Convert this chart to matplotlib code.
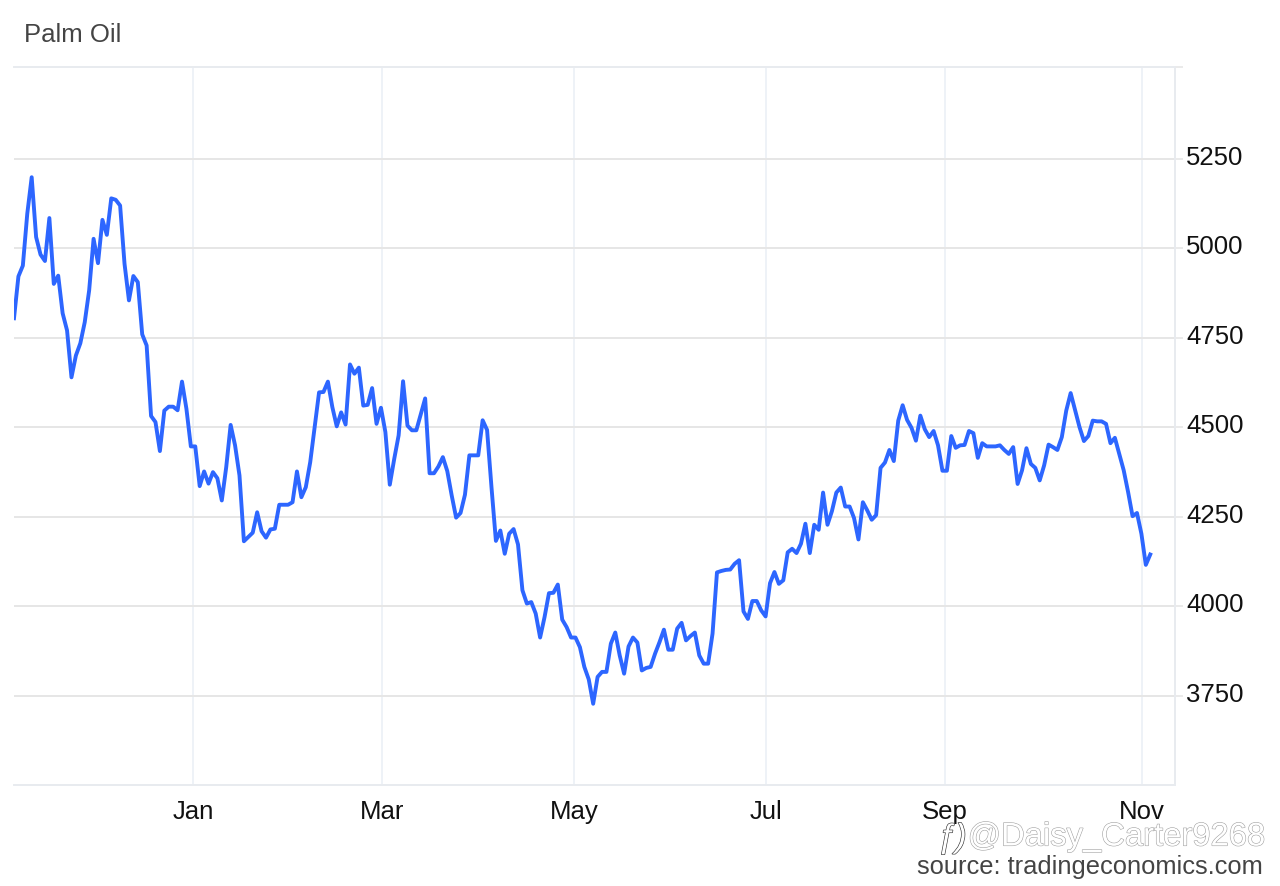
"""Palm Oil price chart, tradingeconomics style."""
import matplotlib
matplotlib.use("Agg")
import matplotlib.pyplot as plt
import matplotlib.patheffects as pe
from matplotlib.transforms import ScaledTranslation

plt.rcParams["font.family"] = ["Liberation Sans", "DejaVu Sans"]

TITLE = "Palm Oil"
SOURCE = "source: tradingeconomics.com"
WATERMARK = "@Daisy_Carter9268"

# daily closes
prices_a = [
    4805, 4922, 4952, 5097, 5199, 5032, 4983, 4965, 5085, 4901, 4924, 4819, 4771,
    4640, 4701, 4735, 4794, 4883, 5027, 4959, 5080, 5038, 5140, 5136, 5120, 4957,
    4855, 4923, 4906, 4760, 4729, 4532, 4515, 4434, 4547, 4558, 4558, 4548, 4628,
    4552, 4447, 4447, 4336, 4377, 4343, 4375, 4358, 4296, 4389, 4507, 4450, 4366,
    4182, 4194, 4206, 4263, 4210, 4192, 4215, 4217, 4284, 4284, 4284, 4291, 4377,
]
prices_b = [
    4305, 4333, 4403, 4501, 4598, 4599, 4628, 4557, 4503, 4542, 4508, 4676, 4650,
    4667, 4561, 4563, 4610, 4510, 4555, 4487, 4340, 4412, 4478, 4629, 4505, 4492,
    4492, 4536, 4581, 4372, 4372, 4391, 4417, 4378, 4310, 4248, 4261, 4312, 4422,
    4422, 4422, 4520, 4493, 4333, 4183, 4212, 4147, 4203, 4216, 4173, 4045, 4008,
    4012, 3980, 3913, 3970, 4037, 4038, 4061, 3963, 3942, 3913, 3913,
]
prices_c = [
    3886, 3831, 3796, 3728, 3803, 3817, 3817, 3896, 3927, 3863, 3812, 3888, 3913,
    3899, 3821, 3828, 3831, 3868, 3900, 3935, 3879, 3879, 3938, 3954, 3905, 3917,
    3927, 3863, 3840, 3840, 3924, 4095, 4099, 4102, 4103, 4119, 4129, 3986, 3965,
    4015, 4015, 3989, 3972, 4065, 4096, 4063, 4073, 4151, 4161, 4149, 4175, 4231,
    4149, 4228, 4214,
]
prices_d = [
    4318, 4228, 4266, 4318, 4332, 4279, 4279, 4247, 4187, 4291, 4268, 4242, 4255,
    4387, 4402, 4437, 4406, 4519, 4562, 4521, 4499, 4463, 4533, 4495, 4473, 4490,
    4450, 4379, 4379, 4476, 4443, 4450, 4451, 4490, 4484, 4415, 4456, 4447, 4447,
    4447, 4450, 4437, 4426, 4445, 4342, 4380, 4442, 4398, 4387, 4352, 4394, 4452,
    4445, 4437, 4473, 4547, 4596, 4549, 4501, 4462, 4476, 4519, 4517, 4517, 4510,
    4456, 4471, 4426, 4380, 4319, 4252, 4261, 4203, 4116, 4145,
]
prices = prices_a + prices_b + prices_c + prices_d

months = ["Jan", "Mar", "May", "Jul", "Sep", "Nov"]
month_idx = [40.6, 83.3, 126.7, 170.0, 210.6, 255.2]
yticks = [3750, 4000, 4250, 4500, 4750, 5000, 5250]

W, H = 1280, 887
fig = plt.figure(figsize=(W / 100, H / 100), dpi=100, facecolor="white")
ax = fig.add_axes([14 / W, 1 - 786 / H, (1175 - 14) / W, (786 - 68) / H])

ax.plot(range(len(prices)), prices, color="#2d66ff", lw=2.8, solid_joinstyle="round", zorder=3)

ax.set_xlim(0, 262.6)
ax.set_ylim(3501, 5507)
ax.set_xticks(month_idx, months)
ax.set_yticks(yticks)
ax.set_yticks([5507], minor=True)
ax.yaxis.tick_right()
ax.grid(axis="y", color="#e6e6e6", lw=1.4)
ax.grid(axis="x", color="#eef2f7", lw=1.4)
ax.set_axisbelow(True)
ax.tick_params(axis="x", length=0, pad=10, labelsize=18.5, labelcolor="#111111")
ax.tick_params(axis="y", which="both", length=5.8, width=1.2, color="#e6e6e6", pad=2.2,
               labelsize=18.5, labelcolor="#111111")
# y labels sit a little above their gridlines
for lbl in ax.get_yticklabels():
    lbl.set_va("center")
    lbl.set_transform(lbl.get_transform() + ScaledTranslation(0, 2 / 100, fig.dpi_scale_trans))
ax.spines["left"].set_visible(False)
for side in ["top", "bottom", "right"]:
    ax.spines[side].set_color("#e8ebef")
    ax.spines[side].set_linewidth(1.4)

fig.text(24 / W, 1 - 35 / H, TITLE, fontsize=18.5, color="#444444", va="center", ha="left")
fig.text(1263 / W, 1 - 867 / H, SOURCE, fontsize=18.4, color="#444444", va="center", ha="right")
fig.text(1265 / W, 1 - 838 / H, WATERMARK, fontsize=23.6, color="white", va="center", ha="right",
         path_effects=[pe.withStroke(linewidth=0.8, foreground="#a0a0a0")])
fig.text(937 / W, 1 - 840 / H, "ƒ)", fontsize=24, color="white", style="italic", va="center", ha="left",
         path_effects=[pe.withStroke(linewidth=0.9, foreground="#333333")])

fig.savefig("out.png", dpi=100)
